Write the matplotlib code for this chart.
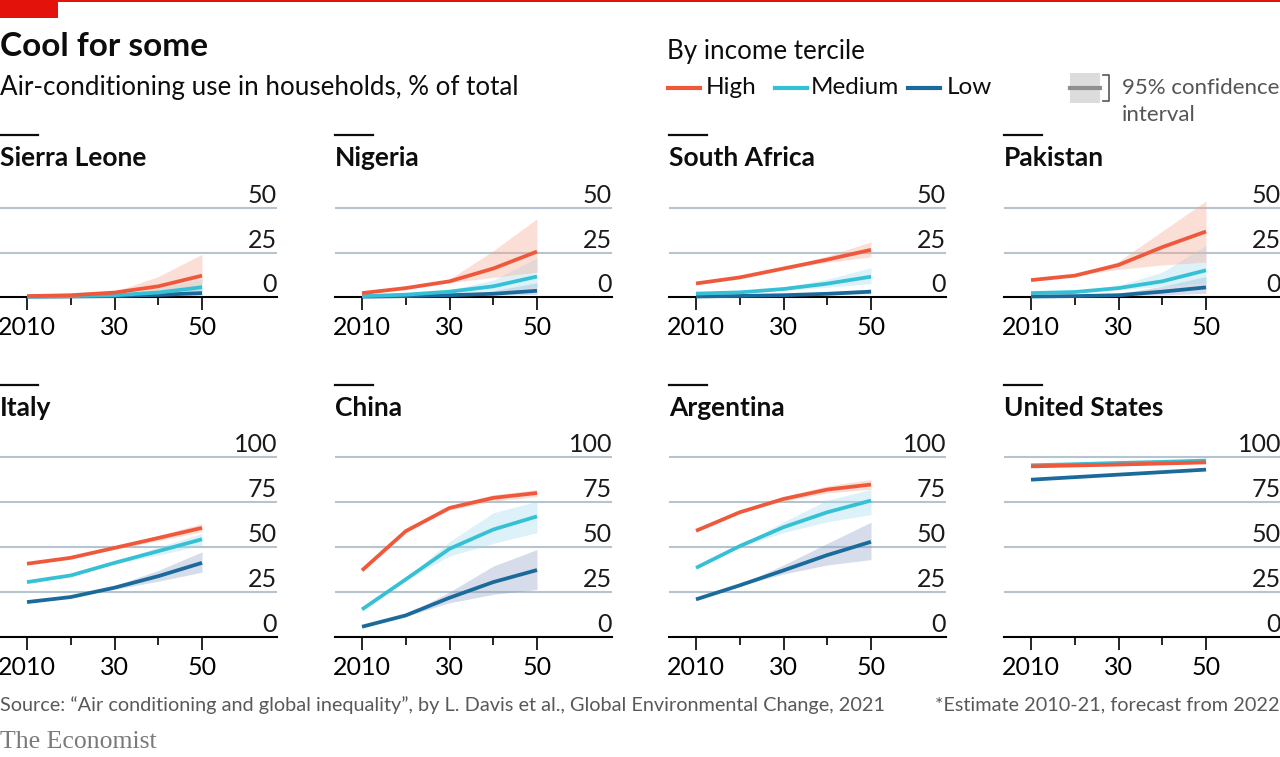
import matplotlib
matplotlib.use('Agg')
import matplotlib.pyplot as plt
from matplotlib.patches import Rectangle
from matplotlib.transforms import offset_copy

plt.rcParams['font.family'] = ['Lato', 'DejaVu Sans']

# data (% of households with AC)
years = [2010, 2020, 2030, 2040, 2050]
countries = ['Sierra Leone', 'Nigeria', 'South Africa', 'Pakistan',
             'Italy', 'China', 'Argentina', 'United States']

high = {
    'Sierra Leone': [0.5, 1.0, 2.5, 6.0, 12.0],
    'Nigeria': [2.2, 5.0, 8.8, 16.0, 25.5],
    'South Africa': [7.6, 11.0, 16.0, 21.0, 26.5],
    'Pakistan': [9.5, 12.0, 18.0, 28.0, 36.8],
    'Italy': [40.7, 44.0, 49.5, 55.0, 60.6],
    'China': [37.0, 58.8, 71.7, 77.3, 80.0],
    'Argentina': [59.0, 69.3, 76.7, 81.9, 84.7],
    'United States': [94.8, 95.3, 95.8, 96.4, 97.0],
}
high_lo = {
    'Sierra Leone': [0.5, 1.0, 2.0, 3.5, 6.0],
    'Nigeria': [2.2, 5.0, 8.0, 11.0, 14.0],
    'South Africa': [7.6, 11.0, 15.5, 19.5, 22.5],
    'Pakistan': [9.5, 12.0, 15.5, 18.0, 19.6],
    'Italy': [40.7, 44.0, 48.7, 53.5, 58.5],
    'China': [37.0, 58.8, 70.5, 75.5, 78.0],
    'Argentina': [59.0, 69.3, 75.5, 80.0, 82.0],
    'United States': [94.5, 95.0, 95.4, 95.9, 96.4],
}
high_hi = {
    'Sierra Leone': [0.5, 1.0, 3.0, 11.5, 24.0],
    'Nigeria': [2.2, 5.0, 10.0, 26.0, 44.0],
    'South Africa': [7.6, 11.0, 16.5, 23.0, 31.0],
    'Pakistan': [9.5, 12.0, 20.0, 37.0, 54.0],
    'Italy': [40.7, 44.0, 50.3, 56.5, 63.0],
    'China': [37.0, 58.8, 72.8, 79.0, 82.0],
    'Argentina': [59.0, 69.3, 78.0, 84.0, 87.5],
    'United States': [95.1, 95.6, 96.2, 96.9, 97.6],
}

medium = {
    'Sierra Leone': [0.3, 0.5, 1.0, 2.5, 5.5],
    'Nigeria': [0.5, 1.3, 3.0, 6.0, 11.5],
    'South Africa': [1.9, 2.6, 4.5, 7.5, 11.4],
    'Pakistan': [2.2, 2.8, 5.0, 8.8, 15.0],
    'Italy': [30.5, 34.2, 41.2, 47.7, 54.3],
    'China': [15.3, 32.0, 49.0, 59.7, 67.0],
    'Argentina': [38.4, 50.5, 61.0, 69.3, 75.8],
    'United States': [95.4, 96.0, 96.7, 97.3, 98.0],
}
medium_lo = {
    'Sierra Leone': [0.3, 0.5, 0.8, 1.5, 3.0],
    'Nigeria': [0.5, 1.2, 2.2, 3.5, 5.5],
    'South Africa': [1.9, 2.4, 3.8, 5.5, 7.5],
    'Pakistan': [2.2, 2.6, 4.0, 6.0, 8.0],
    'Italy': [30.5, 34.2, 40.5, 45.5, 51.0],
    'China': [15.3, 31.5, 45.0, 52.0, 58.0],
    'Argentina': [38.4, 50.0, 58.0, 64.0, 68.0],
    'United States': [95.1, 95.7, 96.3, 96.9, 97.5],
}
medium_hi = {
    'Sierra Leone': [0.3, 0.5, 1.2, 5.0, 10.0],
    'Nigeria': [0.5, 1.5, 4.0, 9.5, 22.0],
    'South Africa': [1.9, 2.8, 5.5, 10.0, 16.5],
    'Pakistan': [2.2, 3.0, 6.5, 14.0, 29.0],
    'Italy': [30.5, 34.2, 42.0, 50.0, 57.5],
    'China': [15.3, 32.5, 53.0, 69.0, 75.4],
    'Argentina': [38.4, 51.0, 64.0, 76.0, 82.0],
    'United States': [95.7, 96.3, 97.1, 97.7, 98.5],
}

low = {
    'Sierra Leone': [0.2, 0.3, 0.5, 1.2, 2.2],
    'Nigeria': [0.2, 0.5, 1.0, 1.8, 3.5],
    'South Africa': [0.3, 0.6, 1.0, 1.8, 3.0],
    'Pakistan': [0.3, 0.5, 1.0, 3.0, 5.4],
    'Italy': [19.4, 22.2, 27.4, 33.8, 41.2],
    'China': [5.7, 12.0, 21.8, 30.5, 37.2],
    'Argentina': [20.9, 28.7, 37.0, 45.5, 52.9],
    'United States': [87.4, 88.8, 90.2, 91.6, 93.0],
}
low_lo = {
    'Sierra Leone': [0.2, 0.3, 0.3, 0.5, 1.0],
    'Nigeria': [0.2, 0.4, 0.7, 1.0, 1.5],
    'South Africa': [0.3, 0.5, 0.7, 1.2, 1.8],
    'Pakistan': [0.3, 0.4, 0.6, 1.2, 2.0],
    'Italy': [19.4, 22.2, 26.5, 31.0, 36.0],
    'China': [5.7, 11.5, 19.0, 23.7, 26.4],
    'Argentina': [20.9, 28.5, 35.0, 40.0, 43.0],
    'United States': [87.0, 88.4, 89.8, 91.1, 92.4],
}
low_hi = {
    'Sierra Leone': [0.2, 0.3, 0.7, 2.5, 5.0],
    'Nigeria': [0.2, 0.6, 1.5, 3.5, 8.0],
    'South Africa': [0.3, 0.7, 1.4, 2.6, 4.5],
    'Pakistan': [0.3, 0.6, 2.0, 6.0, 11.5],
    'Italy': [19.4, 22.2, 28.5, 37.0, 47.3],
    'China': [5.7, 12.5, 25.0, 39.4, 48.6],
    'Argentina': [20.9, 29.0, 40.0, 52.0, 63.8],
    'United States': [87.8, 89.2, 90.6, 92.1, 93.6],
}

top_ticks = [0, 25, 50]
bottom_ticks = [0, 25, 50, 75, 100]
xtick_major = [2010, 2030, 2050]
xtick_labels = ['2010', '30', '50']
xtick_minor = [2020, 2040]

RED = '#F0583C'
CYAN = '#35C0D5'
BLUE = '#1B6A9C'
terciles = [
    ('Low', low, low_lo, low_hi, BLUE, '#8A9CC0'),
    ('Medium', medium, medium_lo, medium_hi, CYAN, '#9FDCEB'),
    ('High', high, high_lo, high_hi, RED, '#F6A58E'),
]

W, H = 1280, 757
fig = plt.figure(figsize=(W / 100, H / 100), dpi=100)


def px_axes(x, y_top, w, h):
    return fig.add_axes([x / W, 1 - (y_top + h) / H, w / W, h / H])


col_left = [0, 335, 669, 1004]
panel_w = 277
first_tick_off = 27
px_per_year = 4.375
x0 = 2010 - first_tick_off / px_per_year
x1 = x0 + panel_w / px_per_year

for i, name in enumerate(countries):
    row, col = divmod(i, 4)
    left = col_left[col]
    if row == 0:
        zero_y, ppu, ymax, yt = 297, 1.78, 60, top_ticks
    else:
        zero_y, ppu, ymax, yt = 637, 1.80, 108, bottom_ticks
    h = ymax * ppu
    ax = px_axes(left, zero_y - h, panel_w, h)
    ax.set_xlim(x0, x1)
    ax.set_ylim(0, ymax)
    ax.patch.set_visible(False)
    for s in ['top', 'left', 'right']:
        ax.spines[s].set_visible(False)
    ax.spines['bottom'].set_linewidth(1.5)
    ax.spines['bottom'].set_zorder(1)
    for v in yt[1:]:
        ax.axhline(v, color='#B5C4CE', lw=1.5, zorder=0)
    ax.set_yticks([])
    ax.set_xticks(xtick_major)
    ax.set_xticklabels(xtick_labels, fontsize=18)
    ax.set_xticks(xtick_minor, minor=True)
    ax.tick_params(axis='x', which='major', length=9, width=1.2, pad=5)
    ax.tick_params(axis='x', which='minor', length=6, width=1.2)
    tr = offset_copy(ax.get_yaxis_transform(), fig=fig, y=5, units='dots')
    for v in yt:
        ax.text(1.0, v, str(v), transform=tr, ha='right', va='baseline',
                fontsize=18, color='#1a1a1a')

    for _, mid, lo, hi, c, fc in terciles:
        ax.fill_between(years, lo[name], hi[name], color=fc, alpha=0.35,
                        lw=0, zorder=2)
    for _, mid, lo, hi, c, fc in terciles:
        ax.plot(years, mid[name], color=c, lw=2.7, zorder=3,
                solid_capstyle='butt', clip_on=False)

    # panel heading
    ty = 158 if row == 0 else 408
    fig.text(left / W, 1 - ty / H, name, fontsize=19, fontweight='bold',
             va='center', ha='left', color='#0d0d0d')
    fig.add_artist(plt.Line2D([left / W, (left + 38) / W],
                              [1 - (ty - 23) / H] * 2, color='#0d0d0d', lw=1.6))

# overlay in pixel coords for titles, legend, footer
ov = fig.add_axes([0, 0, 1, 1])
ov.set_xlim(0, W)
ov.set_ylim(H, 0)
ov.axis('off')

ov.add_patch(Rectangle((0, 0), W, 2, color='#E3120B', lw=0))
ov.add_patch(Rectangle((0, 0), 58, 18, color='#E3120B', lw=0))
ov.text(0, 46, 'Cool for some', fontsize=24, fontweight='bold',
        va='center', ha='left', color='#0d0d0d')
ov.text(0, 87, 'Air-conditioning use in households, % of total',
        fontsize=18.7, va='center', ha='left', color='#0d0d0d')

ov.text(667, 52, 'By income tercile', fontsize=18.7, va='center', color='#0d0d0d')
for lx, tx, label, c in [(668, 706, 'High', RED), (775, 811, 'Medium', CYAN),
                         (908, 947, 'Low', BLUE)]:
    ov.plot([lx, lx + 32], [88, 88], color=c, lw=3)
    ov.text(tx, 88, label, fontsize=17.5, va='center', color='#0d0d0d')

ov.add_patch(Rectangle((1070, 73), 30, 30, color='#DCDCDC', lw=0))
ov.plot([1070, 1100], [88, 88], color='#8E8E8E', lw=3)
ov.plot([1103, 1109, 1109, 1103], [75, 75, 101, 101], color='#555555', lw=1.2)
ov.text(1122, 88, '95% confidence', fontsize=16, va='center', color='#555555')
ov.text(1122, 115, 'interval', fontsize=16, va='center', color='#555555')

ov.text(0, 705, 'Source: \u201cAir conditioning and global inequality\u201d, by L. Davis et al., '
        'Global Environmental Change, 2021', fontsize=14.3, va='center',
        color='#595959')
ov.text(W, 705, '*Estimate 2010-21, forecast from 2022', fontsize=14.3,
        va='center', ha='right', color='#595959')
ov.text(0, 742, 'The Economist', fontsize=18.5, va='center',
        family=['Liberation Serif', 'DejaVu Serif'], color='#7a7a7a')

fig.savefig('out.png', dpi=100)
